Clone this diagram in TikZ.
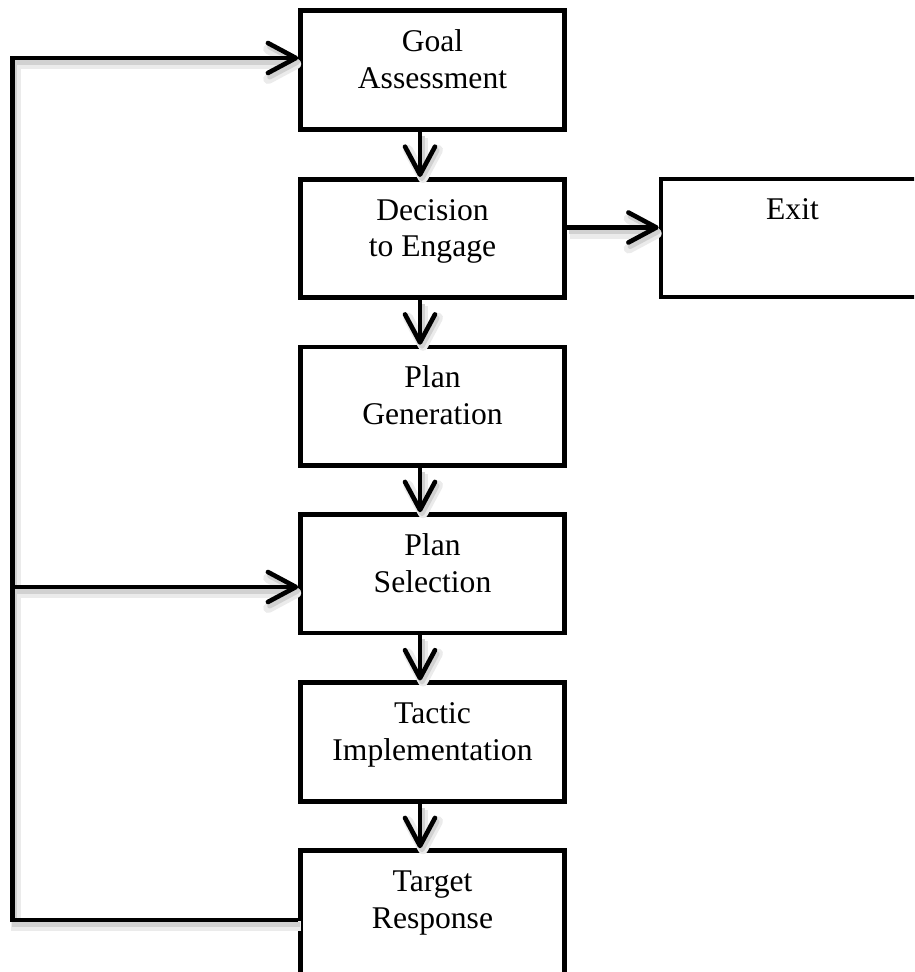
\documentclass[tikz,border=0pt]{standalone}
\usepackage{fontspec}
\setmainfont{Liberation Serif}
\usetikzlibrary{arrows.meta}
\tikzset{
  box/.style={draw=black, line width=4.6pt, rectangle, minimum width=264pt, minimum height=118.5pt, inner sep=0pt},
  txt/.style={font=\fontsize{31.6}{36.6}\selectfont, align=center, inner sep=0pt, outer sep=0pt, anchor=north},
  tip/.style={-{Straight Barb[length=28pt, width=30pt, round]}},
  conn/.style={draw=black, line width=4.6pt, line join=miter},
  shade1/.style={draw=black!8, line width=10pt, line join=miter},
  shade2/.style={draw=black!18, line width=5pt, line join=miter},
}
\newcommand{\myconnectors}[1]{%
  \draw[#1, tip] ([xshift=-12.5pt]goal.south) -- ([xshift=-12.5pt]dec.north);
  \draw[#1, tip] ([xshift=-12.5pt]dec.south) -- ([xshift=-12.5pt]gen.north);
  \draw[#1, tip] ([xshift=-12.5pt]gen.south) -- ([xshift=-12.5pt]sel.north);
  \draw[#1, tip] ([xshift=-12.5pt]sel.south) -- ([xshift=-12.5pt]tac.north);
  \draw[#1, tip] ([xshift=-12.5pt]tac.south) -- ([xshift=-12.5pt]tar.north);
  \draw[#1, tip] ([yshift=11pt]dec.east) -- ([yshift=11pt]dec.east -| exit.west);
  \draw[#1, tip] ([yshift=-4.5pt]tar.west) -- (lb) -- (lt) -- (goal.west |- lt);
  \draw[#1, tip] (lb |- ly) -- (sel.west |- ly);
}
\begin{document}
\begin{tikzpicture}[x=1pt, y=-1pt]
\path[use as bounding box, clip] (0,0) rectangle (914,972);
\fill[white] (0,0) rectangle (914,972);
\node[box] (goal) at (432.5, 70) {};
\node[box] (dec) at (432.5, 238.5) {};
\node[box] (gen) at (432.5, 406.25) {};
\node[box] (sel) at (432.5, 573.75) {};
\node[box] (tac) at (432.5, 742) {};
\node[box, minimum height=130pt] (tar) at (432.5, 915.5) {};
\node[box, minimum width=263pt, minimum height=118pt] (exit) at (792.5, 238) {};
\coordinate (lt) at (12.5, 58);
\coordinate (lb) at (12.5, 920);
\coordinate (ly) at (12.5, 587);
\node[txt] (goalt) at ([yshift=-19.25pt]goal.north) {\rule{0pt}{24pt}Goal\\Assessment};
\node[txt] (dect) at ([yshift=-19.25pt]dec.north) {\rule{0pt}{24pt}Decision\\to Engage};
\node[txt] (gent) at ([yshift=-19.25pt]gen.north) {\rule{0pt}{24pt}Plan\\Generation};
\node[txt] (selt) at ([yshift=-19.25pt]sel.north) {\rule{0pt}{24pt}Plan\\Selection};
\node[txt] (tact) at ([yshift=-19.25pt]tac.north) {\rule{0pt}{24pt}Tactic\\Implementation};
\node[txt] (tart) at ([yshift=-19.25pt]tar.north) {\rule{0pt}{24pt}Target\\Response};
\node[txt] (exitt) at ([yshift=-19.25pt]exit.north) {\rule{0pt}{24pt}Exit};
\begin{scope}[transform canvas={shift={(3pt,-6pt)}}]
  \myconnectors{shade1}
\end{scope}
\begin{scope}[transform canvas={shift={(2pt,-4pt)}}]
  \myconnectors{shade2}
\end{scope}
\myconnectors{conn}
\end{tikzpicture}
\end{document}
